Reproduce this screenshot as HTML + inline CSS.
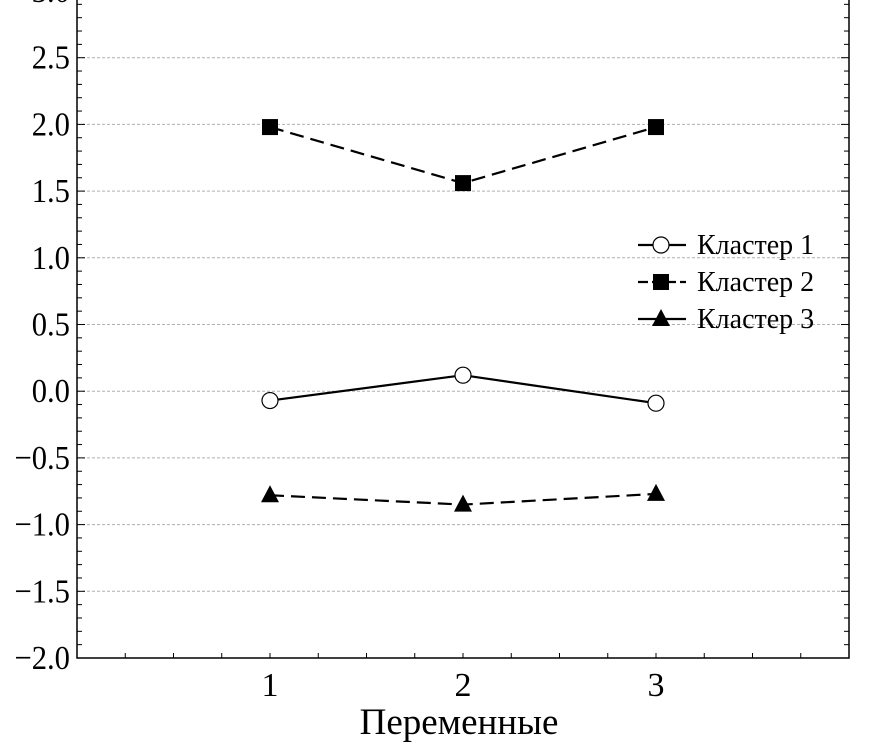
<!DOCTYPE html>
<html><head><meta charset="utf-8"><style>
body{margin:0;background:#fff}
svg text{font-family:"Liberation Serif",serif;fill:#000}
</style></head><body>
<svg id="c" width="873" height="750" xmlns="http://www.w3.org/2000/svg"></svg>
<script>
const categories=[1,2,3];
const cluster1=[-0.07,0.12,-0.09];
const cluster2=[1.98,1.56,1.98];
const cluster3=[-0.78,-0.85,-0.77];
const yTicks=[-2.0,-1.5,-1.0,-0.5,0.0,0.5,1.0,1.5,2.0,2.5,3.0];
const xTicks=[1,2,3];
const seriesNames=["Кластер 1","Кластер 2","Кластер 3"];
const NS="http://www.w3.org/2000/svg";
const svg=document.getElementById('c');
const L=77,R=849,T=-9,B=658;
const X=v=>L+(v-0)*(R-L)/4;
const Y=v=>B-(v+2)*(B-T)/5;
function el(t,a,p){const e=document.createElementNS(NS,t);for(const k in a)e.setAttribute(k,a[k]);(p||svg).appendChild(e);return e;}
function fmt(v){return (v<0?"\u2212":"")+Math.abs(v).toFixed(1);}
yTicks.forEach(v=>{if(v>-2&&v<3){const g=el('line',{x1:L,x2:R,y1:Y(v),y2:Y(v),stroke:'#b0b0b0','stroke-dasharray':'3,2','stroke-width':1});

}});
for(let v=-2;v<=3.0001;v+=0.1){const len=Math.abs(v*2-Math.round(v*2))<0.01?8:5;
el('line',{x1:L,x2:L+len,y1:Y(v),y2:Y(v),stroke:'#000','stroke-width':1});
el('line',{x1:R,x2:R-len,y1:Y(v),y2:Y(v),stroke:'#000','stroke-width':1});}
for(let v=0.25;v<4;v+=0.25){el('line',{x1:X(v),x2:X(v),y1:B,y2:B-5,stroke:'#000','stroke-width':1});}
const ax=el('path',{d:`M${L},${T} L${L},${B} L${R},${B} L${R},${T}`,fill:'none',stroke:'#000','stroke-width':1.5});


yTicks.forEach(v=>{const t=el('text',{x:70,y:Y(v)+11,'text-anchor':'end','font-size':34,transform:`translate(${70},0) scale(0.9,1) translate(${-70},0)`});t.textContent=fmt(v);

});
xTicks.forEach(v=>{const t=el('text',{x:X(v),y:696,'text-anchor':'middle','font-size':34});t.textContent=v;

});
const xt=el('text',{x:459,y:734,'text-anchor':'middle','font-size':37});xt.textContent="Переменные";


const series=[{d:cluster1,dash:'',m:'circle'},{d:cluster2,dash:'14,7',m:'square'},{d:cluster3,dash:'14,7',m:'triangle'}];
const legendDash=['','10,4',''];
function marker(type,x,y,g){
 if(type==='circle')return el('circle',{cx:x,cy:y,r:8,fill:'#fff',stroke:'#000','stroke-width':1.2},g);
 if(type==='square')return el('rect',{x:x-8,y:y-8,width:16,height:16,fill:'#000'},g);
 return el('polygon',{points:`${x},${y-10} ${x+9},${y+7} ${x-9},${y+7}`,fill:'#000'},g);}
series.forEach((s,i)=>{const g=el('g',{});


const pts=s.d.map((v,j)=>X(categories[j])+','+Y(v)).join(' ');
const pl=el('polyline',{points:pts,fill:'none',stroke:'#000','stroke-width':2.2,'stroke-dasharray':s.dash},g);


s.d.forEach((v,j)=>{const m=marker(s.m,X(categories[j]),Y(v),g);

});
const ly=245+i*37;const lg=el('g',{});


el('line',{x1:638,x2:686,y1:ly,y2:ly,stroke:'#000','stroke-width':2.2,'stroke-dasharray':legendDash[i]},lg);
marker(s.m,661,ly,lg);
const t=el('text',{x:697,y:ly+9,'font-size':28},lg);t.textContent=seriesNames[i];});
</script>
</body></html>
